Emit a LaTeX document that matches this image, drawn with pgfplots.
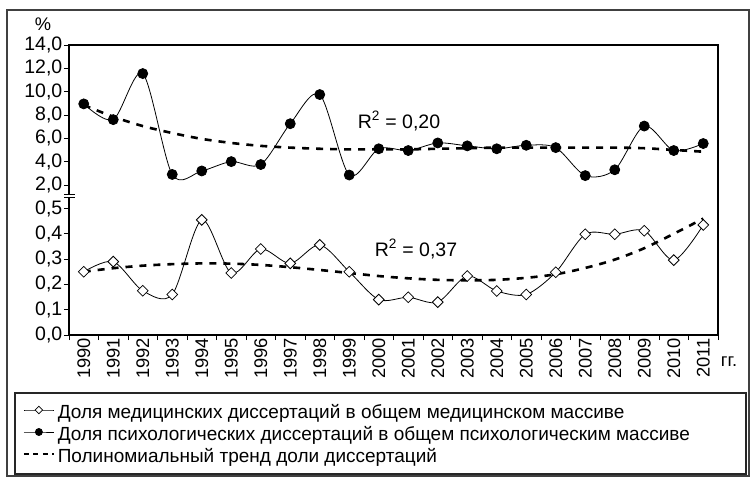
\documentclass[border=0pt]{standalone}
\usepackage{pgfplots}
\pgfplotsset{compat=1.18}
\usepackage{fontspec}
\setmainfont{Liberation Sans}

\pgfplotstableread{
x psych ptrend med mtrend
0  8.95 8.85 0.250 0.250
1  7.60 7.85 0.290 0.264
2  11.55 7.05 0.175 0.274
3  2.90 6.45 0.160 0.280
4  3.20 5.95 0.455 0.283
5  4.00 5.60 0.245 0.282
6  3.75 5.35 0.340 0.277
7  7.25 5.20 0.283 0.268
8  9.75 5.10 0.356 0.257
9  2.85 5.05 0.250 0.245
10 5.10 5.05 0.140 0.233
11 4.95 5.05 0.149 0.224
12 5.60 5.10 0.130 0.218
13 5.35 5.15 0.233 0.216
14 5.10 5.20 0.174 0.218
15 5.40 5.20 0.160 0.226
16 5.20 5.20 0.248 0.240
17 2.80 5.20 0.398 0.265
18 3.30 5.20 0.398 0.298
19 7.05 5.15 0.412 0.343
20 4.95 5.00 0.296 0.400
21 5.55 4.85 0.435 0.460
}\datatable

\pgfplotsset{
  psychstyle/.style={black, line width=0.8pt, mark=*, mark size=5pt, mark options={fill=black, solid}},
  medstyle/.style={black, line width=0.8pt, mark=square*, mark size=3.8pt, mark options={fill=white, rotate=45, solid}},
  trendstyle/.style={black, line width=2.6pt, dash pattern=on 7pt off 7pt},
  myaxis/.style={
    scale only axis, width=649pt,
    xmin=-0.5, xmax=21.5,
    axis line style={draw=none},
    tick align=outside,
    major tick length=5pt,
    ytick pos=left,
    tick style={black, line width=0.8pt},
    yticklabel style={font=\fontsize{19.5}{21}\selectfont, inner sep=1.5pt, /pgf/number format/fixed, /pgf/number format/fixed zerofill, /pgf/number format/precision=1, /pgf/number format/use comma, /pgf/number format/assume math mode=true},
  },
}

\begin{document}
\begin{tikzpicture}[font=\fontsize{18.3}{21}\selectfont]
\useasboundingbox (0,0) rectangle (750pt,477pt);
% outer frame and legend frame
\draw[line width=1.3pt, black!75] (7pt,467pt) rectangle (749pt,1pt);
\draw[line width=1.5pt, black!85] (15pt,84pt) rectangle (746pt,3pt);

% upper axis
\begin{axis}[myaxis,
  at={(69pt,282.5pt)}, anchor=south west,
  height=149.5pt,
  ymin=1.18, ymax=14,
  ytick={2,4,...,14},
  xtick=\empty,
]
\addplot[trendstyle, smooth] table[x=x, y=ptrend] {\datatable};
\addplot[psychstyle, smooth] table[x=x, y=psych] {\datatable};
\end{axis}

% lower axis
\begin{axis}[myaxis,
  at={(69pt,142pt)}, anchor=south west,
  height=137pt,
  ymin=0, ymax=0.5415,
  ytick={0,0.1,...,0.5},
  xtick pos=bottom,
  xtick={-0.5,0.5,...,21.5},
  xticklabels={},
  extra x ticks={0,1,...,21},
  extra x tick labels={1990,1991,1992,1993,1994,1995,1996,1997,1998,1999,2000,2001,2002,2003,2004,2005,2006,2007,2008,2009,2010,2011},
  extra x tick style={major tick length=0pt, tick style={draw=none}},
  xticklabel style={rotate=90, anchor=east, inner sep=3pt},
  legend cell align=left,
  legend image code/.code={\draw[mark repeat=2, mark phase=2, #1, every mark/.append style={scale=0.7}, yshift=6.5pt] plot coordinates {(0pt,0pt) (15pt,0pt) (30pt,0pt)};},
  legend style={at={(axis description cs:-0.0709,-0.5146)}, anchor=north west, draw=none, fill=none,
    inner sep=0pt, outer sep=0pt, row sep=0pt, column sep=3pt, font=\fontsize{19}{21}\selectfont,
    nodes={inner sep=0pt, text height=12.5pt, text depth=9.5pt}},
]
\addplot[trendstyle, smooth, forget plot] table[x=x, y=mtrend] {\datatable};
\addplot[medstyle, smooth] table[x=x, y=med] {\datatable};
\addlegendentry{Доля медицинских диссертаций в общем медицинском массиве}
\addlegendimage{psychstyle}
\addlegendentry{Доля психологических диссертаций в общем психологическим массиве}
\addlegendimage{black, line width=1.8pt, dash pattern=on 5pt off 4.5pt}
\addlegendentry{Полиномиальный тренд доли диссертаций}
\end{axis}

% plot-area frame with axis break
\draw[black, line width=1.2pt] (69pt,282.5pt) -- (69pt,432pt) -- (718pt,432pt) -- (718pt,142pt) -- (69pt,142pt) -- (69pt,279pt);
\draw[black, line width=1pt] (64pt,282.5pt) -- (75pt,282.5pt);
\draw[black, line width=1pt] (64pt,279pt) -- (75pt,279pt);

\node at (43pt,453pt) {\%};
\node at (729pt,115pt) {гг.};
\node[font=\fontsize{19.5}{21}\selectfont] at (399pt,356pt) {R\textsuperscript{2} = 0,20};
\node[font=\fontsize{19.5}{21}\selectfont] at (416pt,228pt) {R\textsuperscript{2} = 0,37};
\end{tikzpicture}
\end{document}
